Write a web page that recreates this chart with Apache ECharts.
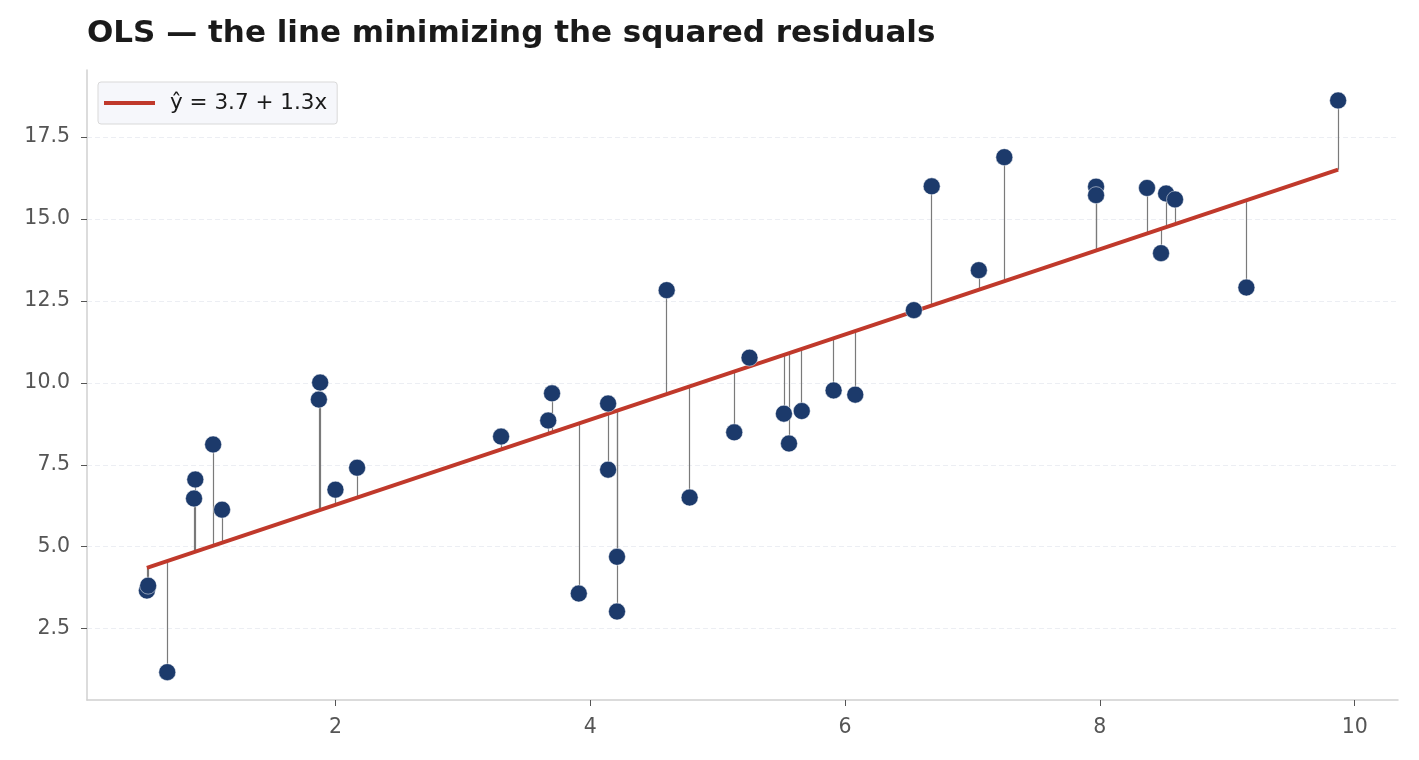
<!DOCTYPE html>
<html>
<head>
<meta charset="utf-8">
<script src="https://cdn.jsdelivr.net/npm/echarts@6/dist/echarts.min.js"></script>
<style>
html,body{margin:0;padding:0;background:#fff;}
#chart{width:1419px;height:760px;}
</style>
</head>
<body>
<div id="chart"></div>
<script>
// Data
const xs = [0.52, 0.53, 0.68, 0.89, 0.90, 1.04, 1.11, 1.87, 1.88, 2.00, 2.17,
            3.30, 3.67, 3.70, 3.91, 4.14, 4.14, 4.21, 4.21, 4.60, 4.78, 5.13,
            5.25, 5.52, 5.56, 5.66, 5.91, 6.08, 6.54, 6.68, 7.05, 7.25, 7.97,
            7.97, 8.37, 8.48, 8.52, 8.59, 9.15, 9.87];
const ys = [3.66, 3.81, 1.17, 6.47, 7.05, 8.12, 6.13, 9.49, 10.01, 6.74, 7.41,
            8.36, 8.85, 9.68, 3.57, 9.37, 7.35, 4.69, 3.02, 12.83, 6.50, 8.49,
            10.77, 9.06, 8.15, 9.14, 9.77, 9.64, 12.22, 16.00, 13.44, 16.89, 15.99,
            15.73, 15.95, 13.96, 15.78, 15.60, 12.91, 18.62];
const intercept = 3.675;
const slope = 1.30;
const fitLabel = 'ŷ = 3.7 + 1.3x';
const title = 'OLS — the line minimizing the squared residuals';
const xTicks = [2, 4, 6, 8, 10];
const yTicks = [2.5, 5.0, 7.5, 10.0, 12.5, 15.0, 17.5];

const FONT = 'DejaVu Sans';
const yhat = x => intercept + slope * x;
const points = xs.map((x, i) => [x, ys[i]]);
const residuals = xs.map((x, i) => ({ coords: [[x, ys[i]], [x, yhat(x)]] }));
const xMinD = Math.min(...xs), xMaxD = Math.max(...xs);
const fitData = [[xMinD, yhat(xMinD)], [xMaxD, yhat(xMaxD)]];

const chart = echarts.init(document.getElementById('chart'), null, { renderer: 'canvas' });
chart.setOption({
  animation: false,
  backgroundColor: '#ffffff',
  title: {
    text: title,
    left: 87, top: 18, padding: 0,
    textStyle: { fontFamily: FONT, fontWeight: 'bold', fontSize: 31, color: '#1a1a1a' }
  },
  legend: {
    data: [fitLabel],
    left: 98, top: 82,
    orient: 'vertical',
    icon: 'rect',
    itemWidth: 51, itemHeight: 4,
    itemGap: 0,
    padding: [10, 10, 10, 6],
    backgroundColor: '#f6f7fb',
    borderColor: '#d9d9d9', borderWidth: 1, borderRadius: 3,
    textStyle: { fontFamily: FONT, fontSize: 21.5, color: '#1a1a1a', padding: [0, 0, 0, 10] }
  },
  grid: { left: 87, right: 21, top: 70, bottom: 60, containLabel: false },
  xAxis: {
    type: 'value',
    min: 0.05, max: 10.34,
    axisLine: { show: true, lineStyle: { color: '#d0d0d0', width: 1.5 } },
    axisTick: { show: true, customValues: xTicks, length: 6, lineStyle: { color: '#555', width: 1 } },
    axisLabel: { customValues: xTicks, margin: 17, fontFamily: FONT, fontSize: 20.5, color: '#555',
                 formatter: v => String(v) },
    splitLine: { show: false }
  },
  yAxis: {
    type: 'value',
    min: 0.32, max: 19.55,
    axisLine: { show: true, lineStyle: { color: '#d0d0d0', width: 1.5 } },
    axisTick: { show: true, customValues: yTicks, length: 6, lineStyle: { color: '#555', width: 1 } },
    axisLabel: { customValues: yTicks, margin: 17, fontFamily: FONT, fontSize: 20.5, color: '#555',
                 formatter: v => v.toFixed(1) },
    splitLine: { show: true, lineStyle: { color: '#eceef3', width: 1, type: [5, 3] } }
  },
  series: [
    {
      name: 'residuals',
      type: 'lines',
      coordinateSystem: 'cartesian2d',
      z: 1,
      silent: true,
      lineStyle: { color: '#7a7a7a', width: 1.2, opacity: 1 },
      data: residuals
    },
    {
      name: fitLabel,
      type: 'line',
      z: 2,
      data: fitData,
      showSymbol: false,
      symbol: 'none',
      lineStyle: { color: '#c0392b', width: 4 },
      itemStyle: { color: '#c0392b' }
    },
    {
      name: 'data',
      type: 'scatter',
      z: 3,
      data: points,
      symbolSize: 17,
      itemStyle: { color: '#1c3a6b', borderColor: '#ffffff', borderWidth: 0.5, opacity: 1 }
    }
  ]
});
</script>
</body>
</html>
